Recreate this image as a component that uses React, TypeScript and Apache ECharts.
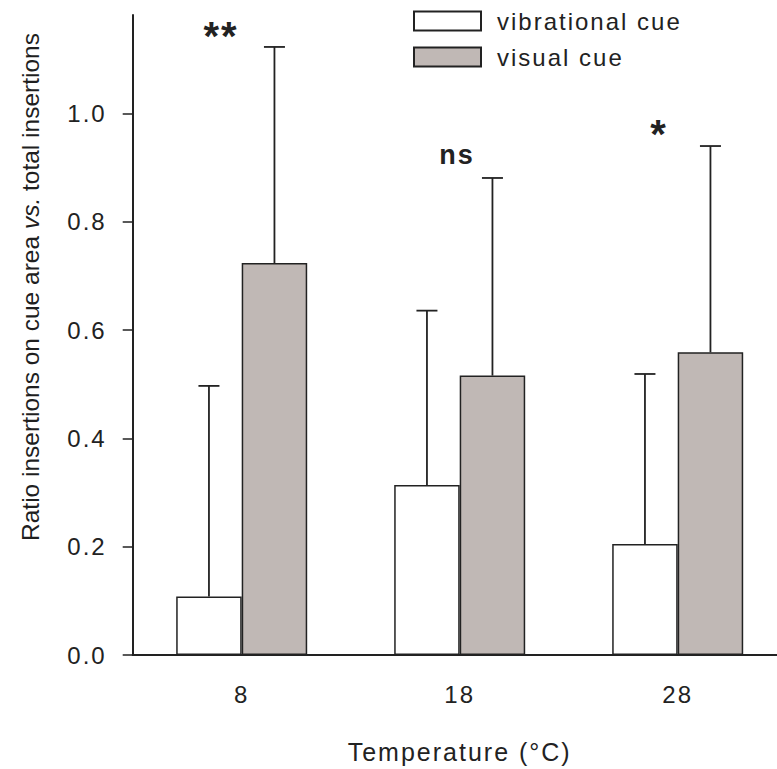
import React, { useEffect, useRef } from "react";
import * as echarts from "echarts";

const categories = ["8", "18", "28"];
const vibrationalMean = [0.108, 0.314, 0.205];
const vibrationalErr = [0.389, 0.322, 0.314];
const visualMean = [0.724, 0.516, 0.559];
const visualErr = [0.399, 0.365, 0.381];
const yTicks = [0, 0.2, 0.4, 0.6, 0.8, 1.0];
const seriesNames = ["vibrational cue", "visual cue"];
const annotations = ["**", "ns", "*"];
const yTitleParts = ["Ratio insertions on cue area ", "vs.", " total insertions"];

const FONT = "'Liberation Sans', Arial, Helvetica, sans-serif";
const INK = "#222222";
const TITLE_INK = "#1f1f1f";
const GRAY = "#c0b8b5";
const BAR_W = 65.5;
const LS = 2;

function measure(text: string, font: string): number {
  const c = document.createElement("canvas");
  const ctx = c.getContext("2d");
  if (!ctx) return text.length * 11;
  ctx.font = font;
  return ctx.measureText(text).width;
}

export default function App() {
  const ref = useRef<HTMLDivElement>(null);

  useEffect(() => {
    if (!ref.current) return;
    const chart = echarts.init(ref.current, null, { renderer: "svg" });

    const errSeries = (name: string, means: number[], errs: number[], offset: number) => ({
      type: "custom",
      name: name + " error",
      data: means.map((m, i) => [i, m, errs[i]]),
      z: 5,
      silent: true,
      renderItem: (params: any, api: any) => {
        const ci = api.value(0);
        const v = api.value(1);
        const e = api.value(2);
        const base = api.coord([ci, v]);
        const top = api.coord([ci, v + e]);
        const x = base[0] + offset;
        const st = { stroke: INK, lineWidth: 1.8 };
        return {
          type: "group",
          children: [
            { type: "line", shape: { x1: x, y1: base[1], x2: x, y2: top[1] }, style: st },
            { type: "line", shape: { x1: x - 10.5, y1: top[1], x2: x + 10.5, y2: top[1] }, style: st },
          ],
        };
      },
    });

    const tSize = 24.5;
    const fNormal = `${tSize}px 'Liberation Sans'`;
    const fItalic = `italic ${tSize}px 'Liberation Sans'`;
    const w0 = measure(yTitleParts[0], fNormal);
    const w1 = measure(yTitleParts[1], fItalic);
    const w2 = measure(yTitleParts[2], fNormal);
    const total = w0 + w1 + w2;
    const x0 = -total / 2;
    const titleStyle = (text: string, italic: boolean) => ({
      text,
      fontSize: tSize,
      fontFamily: FONT,
      fontStyle: italic ? "italic" : "normal",
      fill: TITLE_INK,
      align: "left",
      verticalAlign: "middle",
    });

    chart.setOption({
      animation: false,
      backgroundColor: "#ffffff",
      textStyle: { fontFamily: FONT },
      grid: { left: 132.7, top: 15, width: 654, height: 640, containLabel: false, outerBoundsMode: "none" },
      legend: {
        orient: "vertical",
        left: 413,
        top: 9,
        padding: 0,
        itemWidth: 67,
        itemHeight: 19,
        itemGap: 12,
        icon: "rect",
        selectedMode: false,
        data: seriesNames,
        textStyle: { fontSize: 24, color: INK, fontFamily: FONT, padding: [0, 0, 0, 11] },
      },
      xAxis: {
        type: "category",
        data: categories,
        boundaryGap: true,
        axisLine: { lineStyle: { color: INK, width: 2 } },
        axisTick: { alignWithLabel: true, length: 10, lineStyle: { color: INK, width: 1.5 } },
        axisLabel: { fontSize: 24, color: INK, margin: 27, fontFamily: FONT },
        name: "Temperature (°C)",
        nameLocation: "middle",
        nameGap: 84,
        nameTextStyle: { fontSize: 25, color: INK, fontFamily: FONT },
      },
      yAxis: {
        type: "value",
        min: 0,
        max: 1.182,
        interval: 0.2,
        splitLine: { show: false },
        axisLine: { show: true, lineStyle: { color: INK, width: 2 } },
        axisTick: { show: true, length: 10, customValues: yTicks, lineStyle: { color: INK, width: 1.5 } },
        axisLabel: {
          fontSize: 24,
          color: INK,
          margin: 26,
          fontFamily: FONT,
          customValues: yTicks,
          formatter: (v: number) => v.toFixed(1),
        },
      },
      graphic: [
        {
          type: "group",
          x: 30,
          y: 287,
          rotation: Math.PI / 2,
          children: [
            { type: "text", x: x0, y: 0, style: titleStyle(yTitleParts[0], false) },
            { type: "text", x: x0 + w0, y: 0, style: titleStyle(yTitleParts[1], true) },
            { type: "text", x: x0 + w0 + w1, y: 0, style: titleStyle(yTitleParts[2], false) },
          ],
        },
        {
          type: "text",
          x: 221,
          y: 36,
          style: { text: annotations[0], fontSize: 40, fontWeight: "bold", fontFamily: FONT, fill: INK, align: "center", verticalAlign: "middle" },
        },
        {
          type: "text",
          x: 457,
          y: 155,
          style: { text: annotations[1], fontSize: 27, fontWeight: "bold", fontFamily: FONT, fill: INK, align: "center", verticalAlign: "middle" },
        },
        {
          type: "text",
          x: 659,
          y: 134,
          style: { text: annotations[2], fontSize: 40, fontWeight: "bold", fontFamily: FONT, fill: INK, align: "center", verticalAlign: "middle" },
        },
      ],
      series: [
        {
          type: "bar",
          name: seriesNames[0],
          data: vibrationalMean,
          barWidth: BAR_W,
          barGap: "0%",
          itemStyle: { color: "#ffffff", borderColor: INK, borderWidth: 1.5 },
        },
        {
          type: "bar",
          name: seriesNames[1],
          data: visualMean,
          barWidth: BAR_W,
          barGap: "0%",
          itemStyle: { color: GRAY, borderColor: INK, borderWidth: 1.5 },
        },
        errSeries(seriesNames[0], vibrationalMean, vibrationalErr, -BAR_W / 2),
        errSeries(seriesNames[1], visualMean, visualErr, BAR_W / 2),
      ],
    });

    return () => chart.dispose();
  }, []);

  const css =
    `.ec-ls text { letter-spacing: ${LS}px; } ` +
    `.ec-ls text[fill="${TITLE_INK}"], .ec-ls text[fill="rgb(31,31,31)"], .ec-ls text[style*="${TITLE_INK}"], .ec-ls text[style*="rgb(31, 31, 31)"] { letter-spacing: 0px; }`;

  return (
    <>
      <style>{css}</style>
      <div
        ref={ref}
        className="ec-ls"
        style={{ position: "fixed", left: 0, top: 0, width: 777, height: 769, overflow: "hidden" }}
      />
    </>
  );
}
